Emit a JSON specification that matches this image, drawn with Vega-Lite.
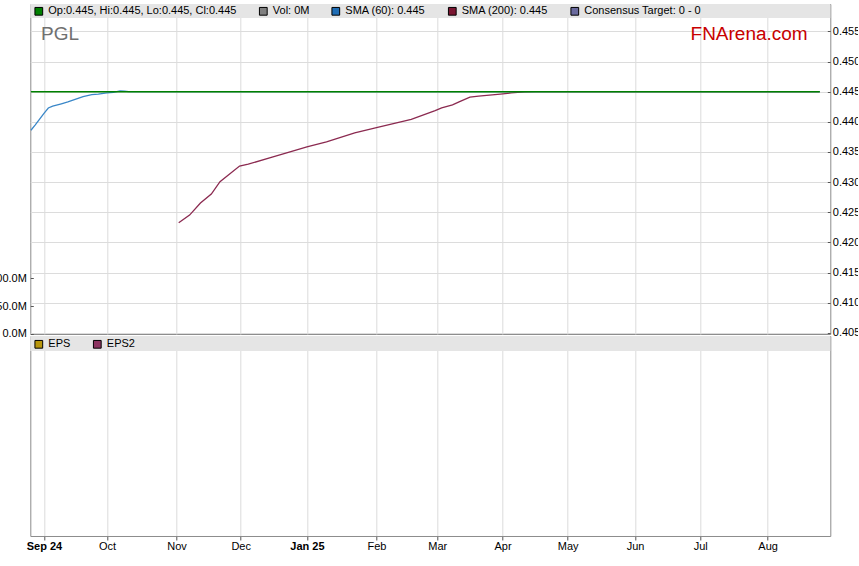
{
  "$schema": "https://vega.github.io/schema/vega-lite/v6.json",
  "background": "white",
  "padding": {"left": -11.7, "top": 3, "right": -3, "bottom": 0},
  "bounds": "flush",
  "spacing": 2,
  "datasets": {
    "prices": [
      {"date": "2024-08-27", "value": 0.445, "series": "close"},
      {"date": "2024-10-01", "value": 0.445, "series": "close"},
      {"date": "2024-12-02", "value": 0.445, "series": "close"},
      {"date": "2025-02-03", "value": 0.445, "series": "close"},
      {"date": "2025-04-01", "value": 0.445, "series": "close"},
      {"date": "2025-06-02", "value": 0.445, "series": "close"},
      {"date": "2025-08-25", "value": 0.445, "series": "close"},
      {"date": "2024-08-27", "value": 0.4386, "series": "sma60"},
      {"date": "2024-08-29", "value": 0.4395, "series": "sma60"},
      {"date": "2024-09-02", "value": 0.4414, "series": "sma60"},
      {"date": "2024-09-04", "value": 0.4423, "series": "sma60"},
      {"date": "2024-09-06", "value": 0.4426, "series": "sma60"},
      {"date": "2024-09-10", "value": 0.4430, "series": "sma60"},
      {"date": "2024-09-13", "value": 0.4433, "series": "sma60"},
      {"date": "2024-09-17", "value": 0.4438, "series": "sma60"},
      {"date": "2024-09-20", "value": 0.4442, "series": "sma60"},
      {"date": "2024-09-24", "value": 0.4445, "series": "sma60"},
      {"date": "2024-09-27", "value": 0.4446, "series": "sma60"},
      {"date": "2024-10-01", "value": 0.4448, "series": "sma60"},
      {"date": "2024-10-04", "value": 0.4449, "series": "sma60"},
      {"date": "2024-10-07", "value": 0.44515, "series": "sma60"},
      {"date": "2024-10-09", "value": 0.4451, "series": "sma60"},
      {"date": "2024-10-11", "value": 0.445, "series": "sma60"},
      {"date": "2025-08-25", "value": 0.445, "series": "sma60"},
      {"date": "2024-11-03", "value": 0.42325, "series": "sma200"},
      {"date": "2024-11-08", "value": 0.42453, "series": "sma200"},
      {"date": "2024-11-13", "value": 0.42654, "series": "sma200"},
      {"date": "2024-11-18", "value": 0.42801, "series": "sma200"},
      {"date": "2024-11-22", "value": 0.43007, "series": "sma200"},
      {"date": "2024-11-26", "value": 0.43121, "series": "sma200"},
      {"date": "2024-12-01", "value": 0.43266, "series": "sma200"},
      {"date": "2024-12-05", "value": 0.43297, "series": "sma200"},
      {"date": "2024-12-16", "value": 0.43413, "series": "sma200"},
      {"date": "2024-12-25", "value": 0.4351, "series": "sma200"},
      {"date": "2025-01-01", "value": 0.43584, "series": "sma200"},
      {"date": "2025-01-10", "value": 0.43666, "series": "sma200"},
      {"date": "2025-01-23", "value": 0.43818, "series": "sma200"},
      {"date": "2025-02-02", "value": 0.43903, "series": "sma200"},
      {"date": "2025-02-18", "value": 0.4404, "series": "sma200"},
      {"date": "2025-03-01", "value": 0.44186, "series": "sma200"},
      {"date": "2025-03-04", "value": 0.4423, "series": "sma200"},
      {"date": "2025-03-09", "value": 0.4428, "series": "sma200"},
      {"date": "2025-03-12", "value": 0.4433, "series": "sma200"},
      {"date": "2025-03-17", "value": 0.44409, "series": "sma200"},
      {"date": "2025-03-21", "value": 0.44427, "series": "sma200"},
      {"date": "2025-03-31", "value": 0.4446, "series": "sma200"},
      {"date": "2025-04-05", "value": 0.4448, "series": "sma200"},
      {"date": "2025-04-11", "value": 0.44498, "series": "sma200"},
      {"date": "2025-04-16", "value": 0.445, "series": "sma200"},
      {"date": "2025-08-25", "value": 0.445, "series": "sma200"}
    ],
    "volume": [
      {"date": "2024-08-27", "vol": 0},
      {"date": "2024-10-01", "vol": 0},
      {"date": "2024-12-02", "vol": 0},
      {"date": "2025-02-03", "vol": 0},
      {"date": "2025-04-01", "vol": 0},
      {"date": "2025-06-02", "vol": 0},
      {"date": "2025-08-25", "vol": 0}
    ],
    "legendTop": [
      {"label": "Op:0.445, Hi:0.445, Lo:0.445, Cl:0.445"},
      {"label": "Vol: 0M"},
      {"label": "SMA (60): 0.445"},
      {"label": "SMA (200): 0.445"},
      {"label": "Consensus Target: 0 - 0"}
    ],
    "legendBottom": [
      {"label": "EPS"},
      {"label": "EPS2"}
    ]
  },
  "vconcat": [
    {
      "width": 800,
      "height": 330,
      "layer": [
        {
          "data": {"values": [{}]},
          "mark": {"type": "rect", "color": "#e5e5e5"},
          "encoding": {
            "y": {"datum": 0.45955, "type": "quantitative", "scale": {"domain": [0.4048, 0.45955], "zero": false, "nice": false}, "axis": null},
            "y2": {"datum": 0.45723}
          }
        },
        {
          "data": {"name": "prices"},
          "transform": [{"filter": "datum.series == 'sma200'"}],
          "mark": {"type": "line", "color": "#8b2a50", "strokeWidth": 1.3},
          "encoding": {
            "x": {"field": "date", "type": "temporal", "scale": {"type": "utc", "padding": 0, "domain": [{"year": 2024, "month": 8, "date": 26, "hours": 17, "utc": true}, {"year": 2025, "month": 8, "date": 29, "hours": 20, "utc": true}]},
              "axis": {"grid": true, "labels": false, "ticks": false, "domain": false, "title": null, "values": [{"year":2024,"month":9,"date":2,"utc":true},{"year":2024,"month":10,"date":1,"utc":true},{"year":2024,"month":11,"date":2,"utc":true},{"year":2024,"month":12,"date":1,"hours":12,"utc":true},{"year":2025,"month":1,"date":1,"utc":true},{"year":2025,"month":2,"date":2,"utc":true},{"year":2025,"month":3,"date":2,"utc":true},{"year":2025,"month":4,"date":1,"utc":true},{"year":2025,"month":5,"date":1,"utc":true},{"year":2025,"month":6,"date":1,"utc":true},{"year":2025,"month":7,"date":1,"utc":true},{"year":2025,"month":8,"date":1,"utc":true}]}},
            "y": {"field": "value", "type": "quantitative", "scale": {"domain": [0.4048, 0.45955], "zero": false, "nice": false}, "axis": null}
          }
        },
        {
          "data": {"name": "prices"},
          "transform": [{"filter": "datum.series == 'sma60'"}],
          "mark": {"type": "line", "color": "#3a87c8", "strokeWidth": 1.3},
          "encoding": {
            "x": {"field": "date", "type": "temporal", "scale": {"type": "utc", "padding": 0, "domain": [{"year": 2024, "month": 8, "date": 26, "hours": 17, "utc": true}, {"year": 2025, "month": 8, "date": 29, "hours": 20, "utc": true}]},
              "axis": {"grid": true, "labels": false, "ticks": false, "domain": false, "title": null, "values": [{"year":2024,"month":9,"date":2,"utc":true},{"year":2024,"month":10,"date":1,"utc":true},{"year":2024,"month":11,"date":2,"utc":true},{"year":2024,"month":12,"date":1,"hours":12,"utc":true},{"year":2025,"month":1,"date":1,"utc":true},{"year":2025,"month":2,"date":2,"utc":true},{"year":2025,"month":3,"date":2,"utc":true},{"year":2025,"month":4,"date":1,"utc":true},{"year":2025,"month":5,"date":1,"utc":true},{"year":2025,"month":6,"date":1,"utc":true},{"year":2025,"month":7,"date":1,"utc":true},{"year":2025,"month":8,"date":1,"utc":true}]}},
            "y": {"field": "value", "type": "quantitative", "scale": {"domain": [0.4048, 0.45955], "zero": false, "nice": false}, "axis": null}
          }
        },
        {
          "data": {"name": "prices"},
          "transform": [{"filter": "datum.series == 'close'"}],
          "mark": {"type": "line", "color": "#008000", "strokeWidth": 1.6},
          "encoding": {
            "x": {"field": "date", "type": "temporal", "scale": {"type": "utc", "padding": 0, "domain": [{"year": 2024, "month": 8, "date": 26, "hours": 17, "utc": true}, {"year": 2025, "month": 8, "date": 29, "hours": 20, "utc": true}]},
              "axis": {"grid": true, "labels": false, "ticks": false, "domain": false, "title": null, "values": [{"year":2024,"month":9,"date":2,"utc":true},{"year":2024,"month":10,"date":1,"utc":true},{"year":2024,"month":11,"date":2,"utc":true},{"year":2024,"month":12,"date":1,"hours":12,"utc":true},{"year":2025,"month":1,"date":1,"utc":true},{"year":2025,"month":2,"date":2,"utc":true},{"year":2025,"month":3,"date":2,"utc":true},{"year":2025,"month":4,"date":1,"utc":true},{"year":2025,"month":5,"date":1,"utc":true},{"year":2025,"month":6,"date":1,"utc":true},{"year":2025,"month":7,"date":1,"utc":true},{"year":2025,"month":8,"date":1,"utc":true}]}},
            "y": {
              "field": "value", "type": "quantitative",
              "scale": {"domain": [0.4048, 0.45955], "zero": false, "nice": false},
              "axis": {"orient": "right", "values": [0.405, 0.41, 0.415, 0.42, 0.425, 0.43, 0.435, 0.44, 0.445, 0.45, 0.455], "format": ".3f", "grid": true, "domain": false, "tickSize": -3, "labelPadding": 5, "title": null}
            }
          }
        },
        {
          "data": {"name": "volume"},
          "mark": {"type": "bar", "color": "#808080", "width": 1},
          "encoding": {
            "x": {"field": "date", "type": "temporal", "scale": {"type": "utc", "padding": 0, "domain": [{"year": 2024, "month": 8, "date": 26, "hours": 17, "utc": true}, {"year": 2025, "month": 8, "date": 29, "hours": 20, "utc": true}]},
              "axis": {"grid": true, "labels": false, "ticks": false, "domain": false, "title": null, "values": [{"year":2024,"month":9,"date":2,"utc":true},{"year":2024,"month":10,"date":1,"utc":true},{"year":2024,"month":11,"date":2,"utc":true},{"year":2024,"month":12,"date":1,"hours":12,"utc":true},{"year":2025,"month":1,"date":1,"utc":true},{"year":2025,"month":2,"date":2,"utc":true},{"year":2025,"month":3,"date":2,"utc":true},{"year":2025,"month":4,"date":1,"utc":true},{"year":2025,"month":5,"date":1,"utc":true},{"year":2025,"month":6,"date":1,"utc":true},{"year":2025,"month":7,"date":1,"utc":true},{"year":2025,"month":8,"date":1,"utc":true}]}},
            "y": {
              "field": "vol", "type": "quantitative",
              "scale": {"domain": [0, 589300000], "nice": false},
              "axis": {"orient": "left", "values": [0, 50000000, 100000000], "labelExpr": "format(datum.value / 1000000, '.1f') + 'M'", "grid": false, "domain": false, "tickSize": -3, "labelPadding": 7, "title": null}
            }
          }
        },
        {
          "data": {"name": "legendTop"},
          "mark": {"type": "square", "filled": true, "stroke": "#000000", "strokeWidth": 1, "opacity": 0},
          "encoding": {
            "fill": {
              "field": "label", "type": "nominal",
              "scale": {"domain": ["Op:0.445, Hi:0.445, Lo:0.445, Cl:0.445", "Vol: 0M", "SMA (60): 0.445", "SMA (200): 0.445", "Consensus Target: 0 - 0"], "range": ["#008000", "#808080", "#1f6db5", "#7a1530", "#6a6a9e"]},
              "legend": {"orient": "none", "legendX": 3, "legendY": 1.5, "direction": "horizontal", "columns": 5, "title": null, "symbolType": "square", "symbolSize": 60, "symbolStrokeColor": "#000000", "symbolStrokeWidth": 1, "symbolOpacity": 1, "labelFont": "Liberation Sans", "labelFontSize": 11, "labelColor": "#000000", "labelLimit": 400, "labelOffset": 4, "columnPadding": 19.5, "padding": 0}
            }
          }
        },
        {
          "data": {"values": [{}]},
          "mark": {"type": "text", "text": "PGL", "align": "left", "baseline": "alphabetic", "font": "Liberation Sans", "fontSize": 19, "color": "#707070"},
          "encoding": {
            "x": {"datum": {"year": 2024, "month": 8, "date": 31, "hours": 15, "utc": true}, "type": "temporal", "scale": {"type": "utc", "padding": 0, "domain": [{"year": 2024, "month": 8, "date": 26, "hours": 17, "utc": true}, {"year": 2025, "month": 8, "date": 29, "hours": 20, "utc": true}]},
              "axis": {"grid": true, "labels": false, "ticks": false, "domain": false, "title": null, "values": [{"year":2024,"month":9,"date":2,"utc":true},{"year":2024,"month":10,"date":1,"utc":true},{"year":2024,"month":11,"date":2,"utc":true},{"year":2024,"month":12,"date":1,"hours":12,"utc":true},{"year":2025,"month":1,"date":1,"utc":true},{"year":2025,"month":2,"date":2,"utc":true},{"year":2025,"month":3,"date":2,"utc":true},{"year":2025,"month":4,"date":1,"utc":true},{"year":2025,"month":5,"date":1,"utc":true},{"year":2025,"month":6,"date":1,"utc":true},{"year":2025,"month":7,"date":1,"utc":true},{"year":2025,"month":8,"date":1,"utc":true}]}},
            "y": {"datum": 0.45353, "type": "quantitative", "scale": {"domain": [0.4048, 0.45955], "zero": false, "nice": false}, "axis": null}
          }
        },
        {
          "data": {"values": [{}]},
          "mark": {"type": "text", "text": "FNArena.com", "align": "right", "baseline": "alphabetic", "font": "Liberation Sans", "fontSize": 19, "color": "#c80000"},
          "encoding": {
            "x": {"datum": {"year": 2025, "month": 8, "date": 19, "hours": 10, "utc": true}, "type": "temporal", "scale": {"type": "utc", "padding": 0, "domain": [{"year": 2024, "month": 8, "date": 26, "hours": 17, "utc": true}, {"year": 2025, "month": 8, "date": 29, "hours": 20, "utc": true}]},
              "axis": {"grid": true, "labels": false, "ticks": false, "domain": false, "title": null, "values": [{"year":2024,"month":9,"date":2,"utc":true},{"year":2024,"month":10,"date":1,"utc":true},{"year":2024,"month":11,"date":2,"utc":true},{"year":2024,"month":12,"date":1,"hours":12,"utc":true},{"year":2025,"month":1,"date":1,"utc":true},{"year":2025,"month":2,"date":2,"utc":true},{"year":2025,"month":3,"date":2,"utc":true},{"year":2025,"month":4,"date":1,"utc":true},{"year":2025,"month":5,"date":1,"utc":true},{"year":2025,"month":6,"date":1,"utc":true},{"year":2025,"month":7,"date":1,"utc":true},{"year":2025,"month":8,"date":1,"utc":true}]}},
            "y": {"datum": 0.45353, "type": "quantitative", "scale": {"domain": [0.4048, 0.45955], "zero": false, "nice": false}, "axis": null}
          }
        }
      ],
      "resolve": {"scale": {"y": "independent"}, "axis": {"y": "independent"}}
    },
    {
      "width": 800,
      "height": 200,
      "layer": [
        {
          "data": {"values": [{}]},
          "mark": {"type": "rect", "color": "#e5e5e5"},
          "encoding": {
            "x": {
              "datum": {"year": 2024, "month": 8, "date": 26, "hours": 17, "utc": true}, "type": "temporal",
              "scale": {"type": "utc", "padding": 0, "domain": [{"year": 2024, "month": 8, "date": 26, "hours": 17, "utc": true}, {"year": 2025, "month": 8, "date": 29, "hours": 20, "utc": true}]},
              "axis": {
                "orient": "bottom", "grid": true, "domain": false, "ticks": true, "tickSize": 4, "labelPadding": 1, "title": null, "labelOverlap": false, "labelFlush": false,
                "values": [{"year":2024,"month":9,"date":2,"utc":true},{"year":2024,"month":10,"date":1,"utc":true},{"year":2024,"month":11,"date":2,"utc":true},{"year":2024,"month":12,"date":1,"hours":12,"utc":true},{"year":2025,"month":1,"date":1,"utc":true},{"year":2025,"month":2,"date":2,"utc":true},{"year":2025,"month":3,"date":2,"utc":true},{"year":2025,"month":4,"date":1,"utc":true},{"year":2025,"month":5,"date":1,"utc":true},{"year":2025,"month":6,"date":1,"utc":true},{"year":2025,"month":7,"date":1,"utc":true},{"year":2025,"month":8,"date":1,"utc":true}],
                "labelExpr": "(utcmonth(datum.value) == 0 || (utcmonth(datum.value) == 8 && utcyear(datum.value) == 2024)) ? utcFormat(datum.value, '%b %y') : utcFormat(datum.value, '%b')",
                "labelFontWeight": {"condition": {"test": "utcmonth(datum.value) == 0 || (utcmonth(datum.value) == 8 && utcyear(datum.value) == 2024)", "value": "bold"}, "value": "normal"}
              }
            },
            "x2": {"datum": {"year": 2025, "month": 8, "date": 29, "hours": 20, "utc": true}},
            "y": {"datum": 1, "type": "quantitative", "scale": {"domain": [0, 1], "nice": false}, "axis": null},
            "y2": {"datum": 0.925}
          }
        },
        {
          "data": {"name": "legendBottom"},
          "mark": {"type": "square", "filled": true, "stroke": "#000000", "strokeWidth": 1, "opacity": 0},
          "encoding": {
            "fill": {
              "field": "label", "type": "nominal",
              "scale": {"domain": ["EPS", "EPS2"], "range": ["#b8960c", "#8c3461"]},
              "legend": {"orient": "none", "legendX": 3, "legendY": 2.5, "direction": "horizontal", "columns": 2, "title": null, "symbolType": "square", "symbolSize": 60, "symbolStrokeColor": "#000000", "symbolStrokeWidth": 1, "symbolOpacity": 1, "labelFont": "Liberation Sans", "labelFontSize": 11, "labelColor": "#000000", "labelLimit": 400, "labelOffset": 4, "columnPadding": 19.5, "padding": 0}
            }
          }
        }
      ]
    }
  ],
  "resolve": {"scale": {"x": "independent", "fill": "independent"}, "legend": {"fill": "independent"}},
  "config": {
    "view": {"stroke": "#8c8c8c", "strokeWidth": 1},
    "font": "Liberation Sans",
    "axis": {"labelFont": "Liberation Sans", "labelFontSize": 11, "labelColor": "#000000", "gridColor": "#dcdcdc", "gridWidth": 1, "tickColor": "#555555", "tickWidth": 1}
  }
}
